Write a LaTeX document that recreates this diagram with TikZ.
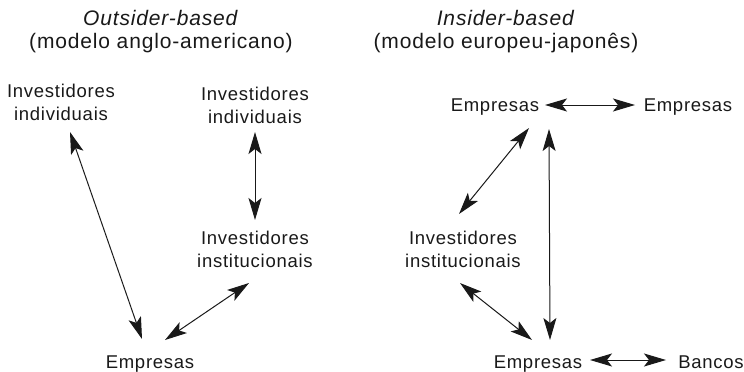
\documentclass[tikz,border=0pt]{standalone}
\usepackage{fontspec}
\setmainfont{Liberation Sans}[LetterSpace=4]
\usetikzlibrary{arrows.meta}
\definecolor{ink}{RGB}{25,25,25}
\tikzset{
  lbl/.style={inner sep=0pt, outer sep=0pt, align=center, text=ink,
    font=\fontsize{18.5}{23}\selectfont},
  hdr/.style={inner sep=0pt, outer sep=0pt, align=center, text=ink,
    font=\fontsize{21}{23}\selectfont},
  link/.style={draw=ink, line width=1pt, {Stealth[length=22pt,width=13pt,inset=5pt]}-{Stealth[length=22pt,width=13pt,inset=5pt]}}
}
\begin{document}
\begin{tikzpicture}[x=1pt,y=-1pt]
\useasboundingbox (0,0) rectangle (744,372);
% headers
\node[hdr, anchor=north] (hL) at (161,8.9) {\strut\textit{Outsider-based}\\\strut(modelo anglo-americano)};
\node[hdr, anchor=north] (hR) at (506,8.9) {\strut\textit{Insider-based}\\\strut(modelo europeu-japonês)};
% left panel
\node[lbl, anchor=north] (iiL) at (61,80.9) {\strut Investidores\\\strut individuais};
\node[lbl, anchor=north] (iiR) at (255,83.9) {\strut Investidores\\\strut individuais};
\node[lbl, anchor=north] (instL) at (255,227.9) {\strut Investidores\\\strut institucionais};
\node[lbl, anchor=base] (empL) at (150,368) {Empresas};
% right panel
\node[lbl, anchor=base] (empT) at (495,111) {Empresas};
\node[lbl, anchor=base] (empT2) at (688,111) {Empresas};
\node[lbl, anchor=north] (instR) at (463,227.9) {\strut Investidores\\\strut institucionais};
\node[lbl, anchor=base] (empB) at (538,368) {Empresas};
\node[lbl, anchor=base] (banc) at (711,368) {Bancos};
% connectors
\draw[link] ([shift={(9,51.1)}]iiL.north) -- ([shift={(-8,-29)}]empL.base);
\draw[link] ([shift={(0,48.1)}]iiR.north) -- ([shift={(0,-7.9)}]instL.north);
\draw[link] ([shift={(-6,55.1)}]instL.north) -- ([shift={(15,-28)}]empL.base);
\draw[link] ([shift={(50,-6)}]empT.base) -- ([shift={(-53,-6)}]empT2.base);
\draw[link] ([shift={(34,17)}]empT.base) -- ([shift={(-4,-13.9)}]instR.north);
\draw[link] ([shift={(54,18)}]empT.base) -- ([shift={(12,-28)}]empB.base);
\draw[link] ([shift={(-3,55.1)}]instR.north) -- ([shift={(-6,-28)}]empB.base);
\draw[link] ([shift={(52,-8)}]empB.base) -- ([shift={(-45,-8)}]banc.base);
\end{tikzpicture}
\end{document}
